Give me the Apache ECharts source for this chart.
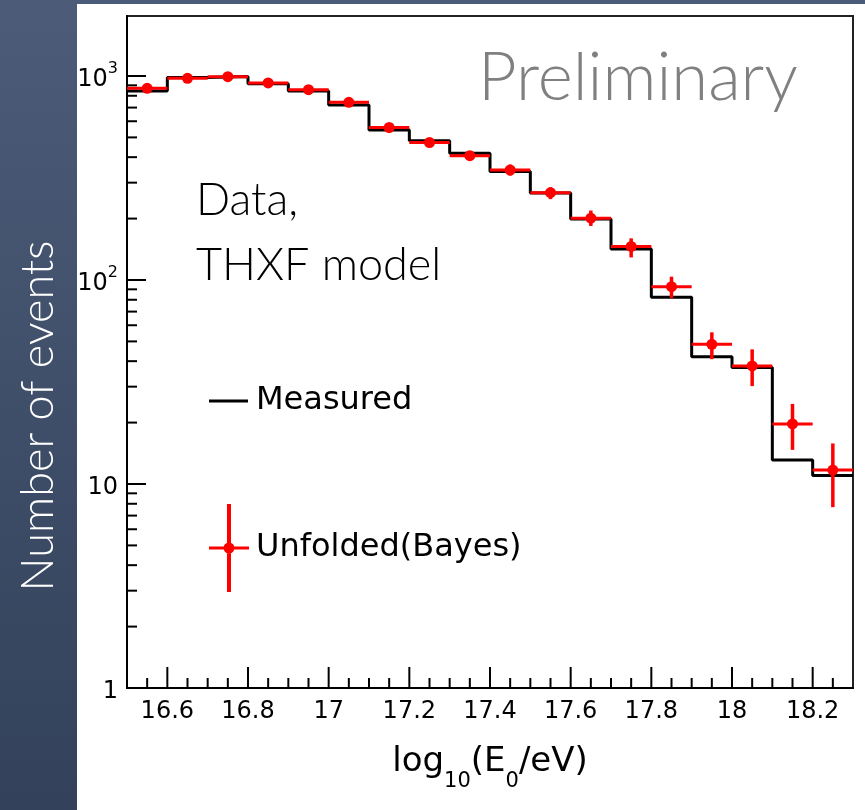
<!DOCTYPE html>
<html>
<head>
<meta charset="utf-8">
<script src="https://cdn.jsdelivr.net/npm/echarts@6/dist/echarts.min.js"></script>
<style>
html,body{margin:0;padding:0;background:#fff;}
#chart{width:865px;height:810px;}
</style>
</head>
<body>
<div id="chart"></div>
<script>
// ---- data ----
const binCenters = [16.55, 16.65, 16.75, 16.85, 16.95, 17.05, 17.15, 17.25, 17.35, 17.45, 17.55, 17.65, 17.75, 17.85, 17.95, 18.05, 18.15, 18.25];
const binHalfWidth = 0.05;
const measured = [844, 983, 995, 917, 844, 721, 544, 482, 418, 340, 267, 199, 142, 82.3, 42.1, 37.2, 13.1, 11.0];
const unfolded = [870, 974, 992, 924, 857, 743, 559, 472, 407, 346, 268, 201, 146, 92.7, 48.4, 37.9, 19.7, 11.7];
const unfoldedLow = [842, 944, 961, 894, 828, 716, 535, 450, 386, 325, 249, 184, 129, 81.4, 40.9, 30.2, 14.7, 7.7];
const unfoldedHigh = [898, 1004, 1023, 954, 886, 770, 583, 494, 428, 368, 285, 219, 160, 103.8, 55.4, 45.7, 24.7, 15.8];
const seriesNames = ['Measured', 'Unfolded(Bayes)'];
const yTitle = 'Number of events';
const annotations = ['Preliminary', 'Data,', 'THXF model'];
const xRange = [16.5, 18.3];
const yRange = [1, 1968];

// ---- derived ----
const measuredStep = binCenters.map((c, i) => [c - binHalfWidth, measured[i]]);
measuredStep.push([binCenters[binCenters.length - 1] + binHalfWidth, measured[measured.length - 1]]);
const unfoldedData = binCenters.map((c, i) => [c, unfolded[i], unfoldedLow[i], unfoldedHigh[i]]);

// axis tick marks (ROOT style: inside, major + minor)
const xTickData = [];
for (let k = 1; k < 36; k++) {
  const v = Math.round((xRange[0] + 0.05 * k) * 100) / 100;
  const major = Math.round(v * 100) % 20 === 0;
  xTickData.push([v, yRange[0], major ? 21 : 10]);
}
const yTickData = [];
for (let d = 0; d <= 3; d++) {
  for (let m = 1; m <= 9; m++) {
    const v = m * Math.pow(10, d);
    if (v <= yRange[1]) yTickData.push([xRange[0], v, m === 1 ? 19 : 10]);
  }
}

const FONT = 'DejaVu Sans, Liberation Sans, Arial, sans-serif';
const chart = echarts.init(document.getElementById('chart'), null, {renderer: 'canvas'});

const option = {
  backgroundColor: '#ffffff',
  animation: false,
  grid: {left: 127, top: 16, width: 726, height: 672, show: true, borderColor: '#222', borderWidth: 2, backgroundColor: 'transparent'},
  xAxis: {
    type: 'value', min: xRange[0], max: xRange[1], interval: 0.1,
    axisLine: {show: true, onZero: false, lineStyle: {color: '#000', width: 2}},
    axisTick: {show: false}, splitLine: {show: false},
    axisLabel: {
      margin: 12, color: '#000', fontFamily: FONT, fontSize: 24,
      formatter: function (v) {
        const t = Math.round(v * 10);
        if (t % 2 !== 0) return '';
        return String(t / 10);
      }
    },
    name: '{n|log}{s|10}{n|(E}{s|0}{n|/eV)}',
    nameLocation: 'middle', nameGap: 54,
    nameTextStyle: {
      color: '#000',
      rich: {
        n: {fontFamily: FONT, fontSize: 34, color: '#000', lineHeight: 40},
        s: {fontFamily: FONT, fontSize: 21, color: '#000', lineHeight: 22, padding: [40, 0, 0, 0]}
      }
    }
  },
  yAxis: {
    type: 'log', logBase: 10, min: yRange[0], max: yRange[1],
    axisLine: {show: true, onZero: false, lineStyle: {color: '#000', width: 2}},
    axisTick: {show: false}, splitLine: {show: false}, minorTick: {show: false},
    axisLabel: {
      margin: 9, color: '#000',
      formatter: function (v) {
        const l = Math.log10(v);
        const r = Math.round(l);
        if (Math.abs(l - r) > 1e-6) return '';
        if (r === 0) return '{b|1}';
        if (r === 1) return '{b|10}';
        return '{b|10}{s|' + r + '}';
      },
      rich: {
        b: {fontFamily: FONT, fontSize: 24, color: '#000', lineHeight: 26, padding: [8, 0, 0, 0]},
        s: {fontFamily: FONT, fontSize: 16, color: '#000', lineHeight: 16, padding: [0, 0, 14, 0]}
      }
    },
    name: yTitle, nameLocation: 'middle', nameRotate: 90, nameGap: 66,
    nameTextStyle: {color: '#ffffff', fontFamily: 'Lato', fontWeight: 300, fontSize: 45, padding: [0, 128, 0, 0]}
  },
  legend: [
    {
      data: [seriesNames[0]], left: 209, top: 383, padding: 0,
      itemWidth: 39, itemHeight: 3, icon: 'rect', itemGap: 0,
      textStyle: {fontFamily: FONT, fontSize: 32, color: '#000', lineHeight: 36, padding: [0, 0, 0, 3]}
    },
    {
      data: [seriesNames[1]], left: 209, top: 504, padding: 0,
      itemWidth: 40, itemHeight: 88, itemGap: 0,
      icon: 'path://M18,0h4v42.5h18v3h-18v42.5h-4v-42.5h-18v-3h18zM25.5,44a5.5,5.5 0 1,1 -11,0a5.5,5.5 0 1,1 11,0z',
      textStyle: {fontFamily: FONT, fontSize: 32, color: '#000', lineHeight: 36, padding: [0, 0, 0, 2]}
    }
  ],
  graphic: [
    {type: 'rect', z: -10, shape: {x: 0, y: 0, width: 77, height: 810},
      style: {fill: new echarts.graphic.LinearGradient(0, 0, 0, 1, [{offset: 0, color: '#4c5c78'}, {offset: 1, color: '#33415a'}])}},
    {type: 'rect', z: -10, shape: {x: 0, y: 0, width: 865, height: 4}, style: {fill: '#4c5c78'}},
    {type: 'text', x: 478, y: 78, style: {text: annotations[0], font: '300 67px Lato', fill: '#808080', verticalAlign: 'middle'}},
    {type: 'text', x: 196, y: 200, style: {text: annotations[1], font: '300 45px Lato', fill: '#000', verticalAlign: 'middle'}},
    {type: 'text', x: 196, y: 265, style: {text: annotations[2], font: '300 45px Lato', fill: '#000', verticalAlign: 'middle'}}
  ],
  series: [
    {
      name: seriesNames[0], type: 'line', step: 'end', data: measuredStep,
      symbol: 'none', clip: true,
      lineStyle: {color: '#000', width: 3}, itemStyle: {color: '#000'}, z: 2
    },
    {
      name: seriesNames[1], type: 'custom', data: unfoldedData, z: 3,
      itemStyle: {color: '#ff0000'},
      encode: {x: 0, y: 1},
      renderItem: function (params, api) {
        const x = api.value(0), y = api.value(1), lo = api.value(2), hi = api.value(3);
        const pL = api.coord([x - binHalfWidth, y]);
        const pR = api.coord([x + binHalfWidth, y]);
        const pC = api.coord([x, y]);
        const pLo = api.coord([x, lo]);
        const pHi = api.coord([x, hi]);
        return {
          type: 'group', children: [
            {type: 'line', shape: {x1: pL[0], y1: pL[1], x2: pR[0], y2: pR[1]}, style: {stroke: '#ff0000', lineWidth: 3}},
            {type: 'line', shape: {x1: pC[0], y1: pHi[1], x2: pC[0], y2: pLo[1]}, style: {stroke: '#ff0000', lineWidth: 3.5}},
            {type: 'circle', shape: {cx: pC[0], cy: pC[1], r: 5.5}, style: {fill: '#ff0000'}}
          ]
        };
      }
    },
    {
      name: 'xticks', type: 'custom', data: xTickData, z: 4, silent: true, clip: false,
      encode: {x: 0, y: 1},
      renderItem: function (params, api) {
        const p = api.coord([api.value(0), api.value(1)]);
        const len = api.value(2);
        return {type: 'line', shape: {x1: p[0], y1: p[1], x2: p[0], y2: p[1] - len}, style: {stroke: '#000', lineWidth: 2}};
      }
    },
    {
      name: 'yticks', type: 'custom', data: yTickData, z: 4, silent: true, clip: false,
      encode: {x: 0, y: 1},
      renderItem: function (params, api) {
        const p = api.coord([api.value(0), api.value(1)]);
        const len = api.value(2);
        return {type: 'line', shape: {x1: p[0], y1: p[1], x2: p[0] + len, y2: p[1]}, style: {stroke: '#000', lineWidth: 2}};
      }
    }
  ]
};
chart.setOption(option);
</script>
</body>
</html>
